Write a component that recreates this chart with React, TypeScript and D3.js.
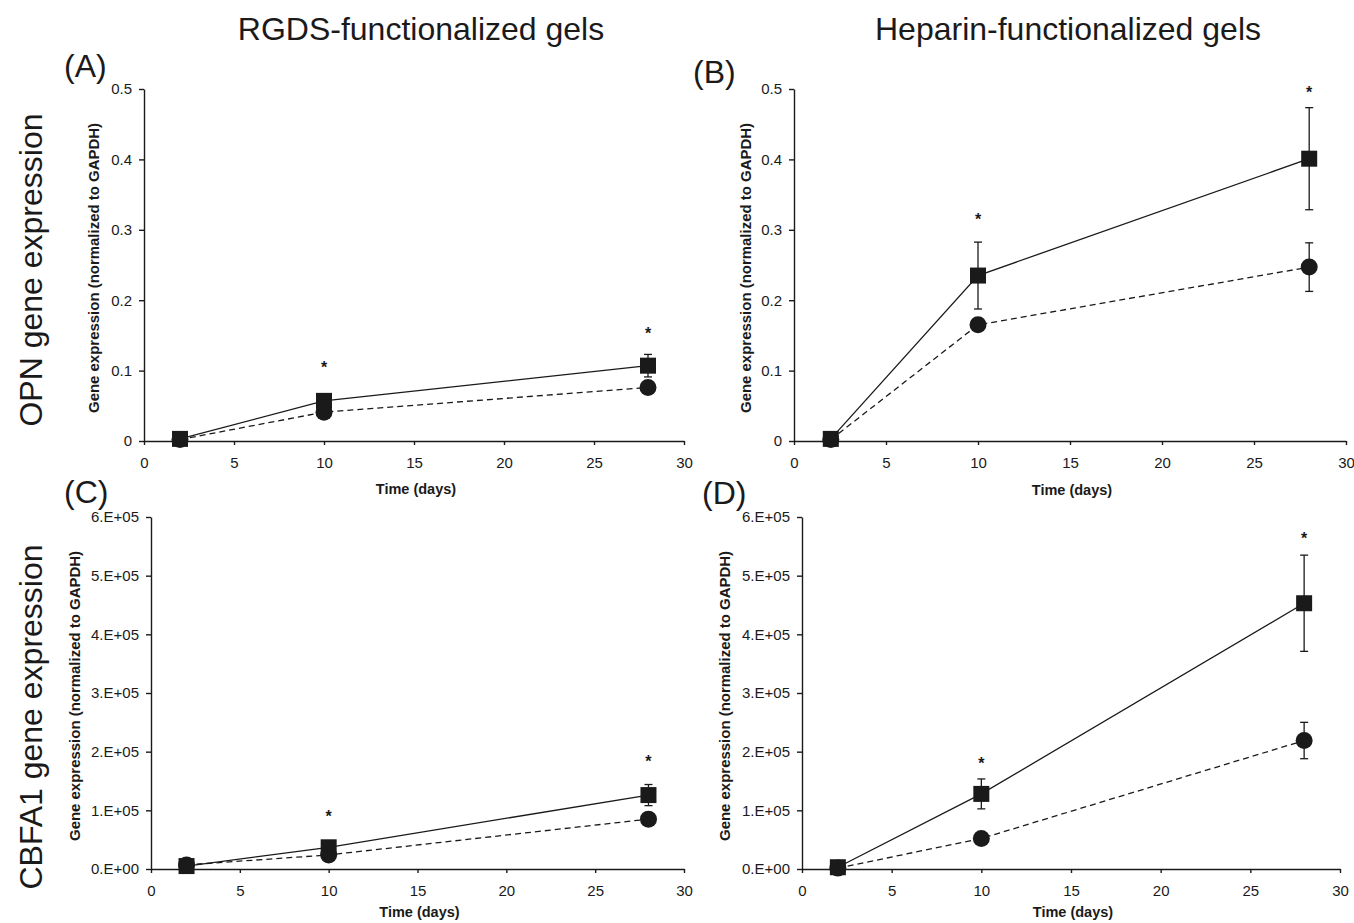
import { useEffect, useRef } from 'react'
import * as d3 from 'd3'

// sampling days
const days = [2, 10, 28]
const starDays = [10, 28]

// (A) OPN, RGDS gels
const opnRgdsSquare = [0.003, 0.057, 0.107]
const opnRgdsSquareErr = [0.003, 0.006, 0.016]
const opnRgdsCircle = [0.002, 0.041, 0.076]
const opnRgdsCircleErr = [0.002, 0.004, 0.005]
const opnRgdsStars = [0.109, 0.157]

// (B) OPN, heparin gels
const opnHepSquare = [0.003, 0.235, 0.401]
const opnHepSquareErr = [0.003, 0.0475, 0.0725]
const opnHepCircle = [0.002, 0.165, 0.247]
const opnHepCircleErr = [0.002, 0.006, 0.0345]
const opnHepStars = [0.319, 0.5]

// (C) CBFA1, RGDS gels
const cbfaRgdsSquare = [5000, 37000, 126000]
const cbfaRgdsSquareErr = [3000, 5000, 18000]
const cbfaRgdsCircle = [7000, 24000, 85000]
const cbfaRgdsCircleErr = [2000, 3000, 6000]
const cbfaRgdsStars = [95000, 188000]

// (D) CBFA1, heparin gels
const cbfaHepSquare = [3000, 128000, 453000]
const cbfaHepSquareErr = [2000, 25500, 82000]
const cbfaHepCircle = [1500, 52000, 219000]
const cbfaHepCircleErr = [1000, 4000, 31000]
const cbfaHepStars = [185000, 569000]

const xTicks = [0, 5, 10, 15, 20, 25, 30]
const opnTicks = [0, 0.1, 0.2, 0.3, 0.4, 0.5]
const cbfaTicks = [0, 100000, 200000, 300000, 400000, 500000, 600000]

const colTitles = ['RGDS-functionalized gels', 'Heparin-functionalized gels']
const rowTitles = ['OPN gene expression', 'CBFA1 gene expression']
const xTitle = 'Time (days)'
const yTitle = 'Gene expression (normalized to GAPDH)'

const FONT = "Arial, 'Liberation Sans', Helvetica, sans-serif"
const INK = '#1b1a1a'

const opnFmt = (v: number) => (v === 0 ? '0' : String(+v.toFixed(1)))
const sciFmt = (v: number) => (v === 0 ? '0.E+00' : `${Math.round(v / 100000)}.E+05`)

const panels = [
  { tag: '(A)', tagX: 64, tagY: 77, left: 144, right: 684, top: 89, bottom: 441, xt: 494, yMax: 0.5, ticks: opnTicks, fmt: opnFmt,
    sq: opnRgdsSquare, sqErr: opnRgdsSquareErr, ci: opnRgdsCircle, ciErr: opnRgdsCircleErr, stars: opnRgdsStars, yt: 99 },
  { tag: '(B)', tagX: 693, tagY: 83, left: 794, right: 1346, top: 89, bottom: 441, xt: 495, yMax: 0.5, ticks: opnTicks, fmt: opnFmt,
    sq: opnHepSquare, sqErr: opnHepSquareErr, ci: opnHepCircle, ciErr: opnHepCircleErr, stars: opnHepStars, yt: 751 },
  { tag: '(C)', tagX: 64, tagY: 503, left: 151, right: 684, top: 517, bottom: 869, xt: 917, yMax: 600000, ticks: cbfaTicks, fmt: sciFmt,
    sq: cbfaRgdsSquare, sqErr: cbfaRgdsSquareErr, ci: cbfaRgdsCircle, ciErr: cbfaRgdsCircleErr, stars: cbfaRgdsStars, yt: 80 },
  { tag: '(D)', tagX: 702, tagY: 504, left: 802, right: 1340, top: 517, bottom: 869, xt: 917, yMax: 600000, ticks: cbfaTicks, fmt: sciFmt,
    sq: cbfaHepSquare, sqErr: cbfaHepSquareErr, ci: cbfaHepCircle, ciErr: cbfaHepCircleErr, stars: cbfaHepStars, yt: 730 },
]

function Chart() {
  const svgRef = useRef<SVGSVGElement>(null)

  useEffect(() => {
    const svg = d3.select(svgRef.current)
    svg.selectAll('*').remove()
    svg.style('font-family', FONT)

    // column and row headings
    svg.selectAll('text.col')
      .data(colTitles)
      .join('text')
      .attr('class', 'col')
      .attr('x', (d, i) => (i === 0 ? 421 : 1068))
      .attr('y', 40)
      .attr('text-anchor', 'middle')
      .attr('font-size', 32)
      .attr('fill', INK)
      .text(d => d)

    svg.selectAll('text.row')
      .data(rowTitles)
      .join('text')
      .attr('class', 'row')
      .attr('transform', (d, i) => `translate(42,${i === 0 ? 270 : 717}) rotate(-90)`)
      .attr('text-anchor', 'middle')
      .attr('font-size', 32)
      .attr('fill', INK)
      .text(d => d)

    panels.forEach(p => {
      const x = d3.scaleLinear().domain([0, 30]).range([p.left, p.right])
      const y = d3.scaleLinear().domain([0, p.yMax]).range([p.bottom, p.top])
      const g = svg.append('g')

      g.append('text')
        .attr('x', p.tagX)
        .attr('y', p.tagY)
        .attr('font-size', 32)
        .attr('fill', INK)
        .text(p.tag)

      // axes
      const yAxis = d3.axisLeft(y).tickValues(p.ticks).tickFormat(d => p.fmt(+d)).tickSize(5).tickSizeOuter(0).tickPadding(7)
      const xAxis = d3.axisBottom(x).tickValues(xTicks).tickFormat(d => String(d)).tickSize(4).tickSizeOuter(0).tickPadding(12)

      const ya = g.append('g').attr('transform', `translate(${p.left},0)`).call(yAxis)
      const xa = g.append('g').attr('transform', `translate(0,${p.bottom})`).call(xAxis)
      ;[ya, xa].forEach(a => {
        a.attr('font-family', FONT).attr('font-size', 15)
        a.selectAll('path, line').attr('stroke', INK).attr('stroke-width', 1.4)
        a.selectAll('text').attr('fill', INK)
      })

      g.append('text')
        .attr('x', (p.left + p.right) / 2 + 2)
        .attr('y', p.xt)
        .attr('text-anchor', 'middle')
        .attr('font-size', 14.5)
        .attr('font-weight', 'bold')
        .attr('fill', INK)
        .text(xTitle)

      g.append('text')
        .attr('transform', `translate(${p.yt},${(p.top + p.bottom) / 2 + 3}) rotate(-90)`)
        .attr('text-anchor', 'middle')
        .attr('font-size', 14.5)
        .attr('font-weight', 'bold')
        .attr('textLength', 290)
        .attr('lengthAdjust', 'spacingAndGlyphs')
        .attr('fill', INK)
        .text(yTitle)

      const line = d3.line<number>().x((d, i) => x(days[i])).y(d => y(d))

      const series = [
        { vals: p.ci, err: p.ciErr, dash: '6,4', shape: 'circle' },
        { vals: p.sq, err: p.sqErr, dash: null, shape: 'square' },
      ]

      series.forEach(s => {
        g.append('path')
          .attr('d', line(s.vals))
          .attr('fill', 'none')
          .attr('stroke', INK)
          .attr('stroke-width', 1.3)
          .attr('stroke-dasharray', s.dash)
      })

      series.forEach(s => {
        const eb = g.append('g').attr('stroke', INK).attr('stroke-width', 1.3)
        s.vals.forEach((v, i) => {
          const cx = x(days[i])
          const y1 = y(v + s.err[i])
          const y2 = y(Math.max(0, v - s.err[i]))
          eb.append('line').attr('x1', cx).attr('x2', cx).attr('y1', y1).attr('y2', y2)
          eb.append('line').attr('x1', cx - 4).attr('x2', cx + 4).attr('y1', y1).attr('y2', y1)
          eb.append('line').attr('x1', cx - 4).attr('x2', cx + 4).attr('y1', y2).attr('y2', y2)
        })

        if (s.shape === 'circle') {
          g.selectAll(null)
            .data(s.vals)
            .join('circle')
            .attr('cx', (d, i) => x(days[i]))
            .attr('cy', d => y(d))
            .attr('r', 8.5)
            .attr('fill', INK)
        } else {
          const side = 16
          g.selectAll(null)
            .data(s.vals)
            .join('rect')
            .attr('x', (d, i) => x(days[i]) - side / 2)
            .attr('y', d => y(d) - side / 2)
            .attr('width', side)
            .attr('height', side)
            .attr('fill', INK)
        }
      })

      // significance markers
      g.selectAll(null)
        .data(p.stars)
        .join('text')
        .attr('x', (d, i) => x(starDays[i]))
        .attr('y', d => y(d) + 8.5)
        .attr('text-anchor', 'middle')
        .attr('font-size', 16)
        .attr('font-weight', 'bold')
        .attr('fill', INK)
        .text('*')
    })
  }, [])

  return <svg ref={svgRef} width={1354} height={923} style={{ position: 'absolute', left: 0, top: 0, background: '#fff' }} />
}

export default function App() {
  return <Chart />
}
